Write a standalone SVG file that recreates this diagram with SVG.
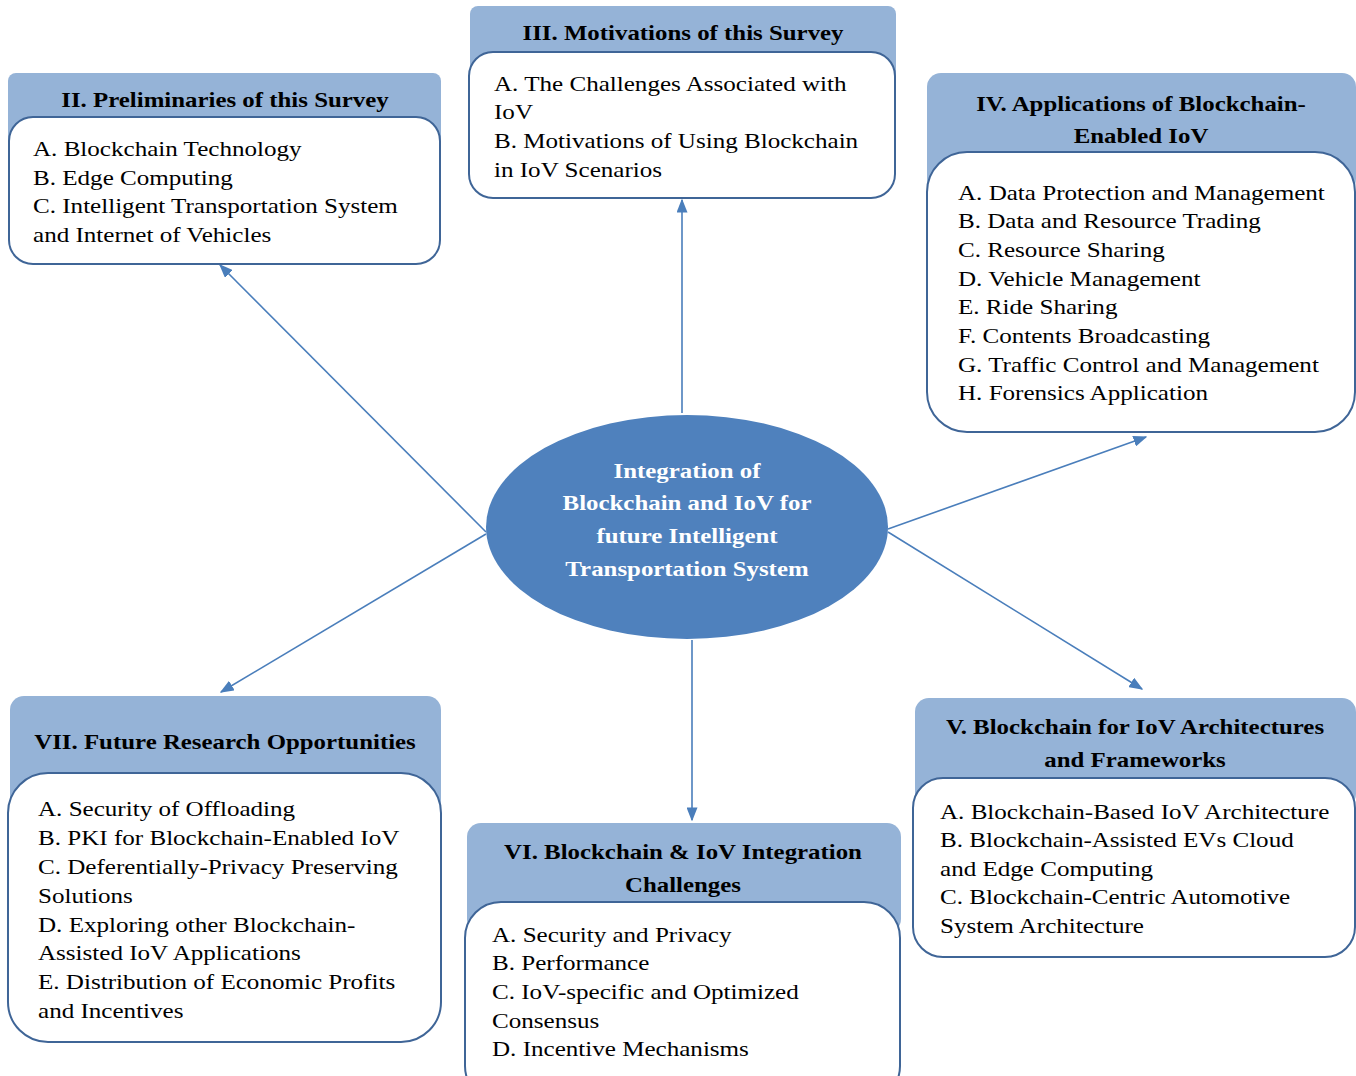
<svg xmlns="http://www.w3.org/2000/svg" width="1356" height="1076" viewBox="0 0 1356 1076">
<defs>
<style>
.hdr{fill:#95B3D7;}
.box{fill:#FFFFFF;stroke:#3F6597;stroke-width:2;}
.ttl{font-family:"Liberation Serif","Times New Roman",serif;font-weight:bold;font-size:22px;fill:#000;text-anchor:middle;}
.bd{font-family:"Liberation Serif","Times New Roman",serif;font-size:22px;fill:#000;}
.ctr{font-family:"Liberation Serif","Times New Roman",serif;font-weight:bold;font-size:22px;fill:#FFFFFF;text-anchor:middle;}
.cn{stroke:#4A7EBB;stroke-width:1.6;fill:none;marker-end:url(#ah);}
</style>
<marker id="ah" viewBox="0 0 10 10" refX="9" refY="5" markerWidth="14" markerHeight="11" markerUnits="userSpaceOnUse" orient="auto" preserveAspectRatio="none">
<path d="M0,0 L10,5 L0,10 z" fill="#4A7EBB"/>
</marker>
</defs>
<rect width="1356" height="1076" fill="#FFFFFF"/>

<g id="connectors">
<line class="cn" x1="486" y1="532" x2="220" y2="265"/>
<line class="cn" x1="682" y1="413" x2="682" y2="200"/>
<line class="cn" x1="888" y1="529" x2="1146" y2="437"/>
<line class="cn" x1="888" y1="532" x2="1142" y2="689"/>
<line class="cn" x1="692" y1="640" x2="692" y2="820"/>
<line class="cn" x1="486" y1="534" x2="221" y2="692"/>
</g>

<g id="center">
<ellipse cx="687" cy="527" rx="201" ry="112" fill="#4F81BD"/>
<g transform="translate(687,0) scale(1.13,1)">
<text class="ctr" x="0" y="478">Integration of</text>
<text class="ctr" x="0" y="510">Blockchain and IoV for</text>
<text class="ctr" x="0" y="543">future Intelligent</text>
<text class="ctr" x="0" y="576">Transportation System</text>
</g>
</g>

<g id="node2">
<rect class="hdr" x="8" y="73" width="433" height="80" rx="8"/>
<rect class="box" x="9" y="117" width="431" height="147" rx="24"/>
<g transform="translate(225,0) scale(1.13,1)">
<text class="ttl" x="0" y="107">II. Preliminaries of this Survey</text>
</g>
<g transform="translate(33,0) scale(1.14,1)">
<text class="bd" x="0" y="156">A. Blockchain Technology</text>
<text class="bd" x="0" y="185">B. Edge Computing</text>
<text class="bd" x="0" y="213">C. Intelligent Transportation System</text>
<text class="bd" x="0" y="242">and Internet of Vehicles</text>
</g>
</g>

<g id="node3">
<rect class="hdr" x="470" y="6" width="426" height="80" rx="8"/>
<rect class="box" x="469" y="52" width="426" height="146" rx="24"/>
<g transform="translate(683,0) scale(1.13,1)">
<text class="ttl" x="0" y="40">III. Motivations of this Survey</text>
</g>
<g transform="translate(494,0) scale(1.14,1)">
<text class="bd" x="0" y="91">A. The Challenges Associated with</text>
<text class="bd" x="0" y="119">IoV</text>
<text class="bd" x="0" y="148">B. Motivations of Using Blockchain</text>
<text class="bd" x="0" y="177">in IoV Scenarios</text>
</g>
</g>

<g id="node4">
<rect class="hdr" x="927" y="73" width="429" height="120" rx="14"/>
<rect class="box" x="927" y="152" width="428" height="280" rx="40"/>
<g transform="translate(1141,0) scale(1.13,1)">
<text class="ttl" x="0" y="111">IV. Applications of Blockchain-</text>
<text class="ttl" x="0" y="143">Enabled IoV</text>
</g>
<g transform="translate(958,0) scale(1.14,1)">
<text class="bd" x="0" y="200">A. Data Protection and Management</text>
<text class="bd" x="0" y="228">B. Data and Resource Trading</text>
<text class="bd" x="0" y="257">C. Resource Sharing</text>
<text class="bd" x="0" y="286">D. Vehicle Management</text>
<text class="bd" x="0" y="314">E. Ride Sharing</text>
<text class="bd" x="0" y="343">F. Contents Broadcasting</text>
<text class="bd" x="0" y="372">G. Traffic Control and Management</text>
<text class="bd" x="0" y="400">H. Forensics Application</text>
</g>
</g>

<g id="node5">
<rect class="hdr" x="915" y="698" width="441" height="110" rx="14"/>
<rect class="box" x="913" y="778" width="442" height="179" rx="30"/>
<g transform="translate(1135,0) scale(1.13,1)">
<text class="ttl" x="0" y="734">V. Blockchain for IoV Architectures</text>
<text class="ttl" x="0" y="767">and Frameworks</text>
</g>
<g transform="translate(940,0) scale(1.14,1)">
<text class="bd" x="0" y="819">A. Blockchain-Based IoV Architecture</text>
<text class="bd" x="0" y="847">B. Blockchain-Assisted EVs Cloud</text>
<text class="bd" x="0" y="876">and Edge Computing</text>
<text class="bd" x="0" y="904">C. Blockchain-Centric Automotive</text>
<text class="bd" x="0" y="933">System Architecture</text>
</g>
</g>

<g id="node6">
<rect class="hdr" x="467" y="823" width="434" height="110" rx="14"/>
<rect class="box" x="465" y="902" width="435" height="200" rx="36"/>
<g transform="translate(683,0) scale(1.13,1)">
<text class="ttl" x="0" y="859">VI. Blockchain &amp; IoV Integration</text>
<text class="ttl" x="0" y="892">Challenges</text>
</g>
<g transform="translate(492,0) scale(1.14,1)">
<text class="bd" x="0" y="942">A. Security and Privacy</text>
<text class="bd" x="0" y="970">B. Performance</text>
<text class="bd" x="0" y="999">C. IoV-specific and Optimized</text>
<text class="bd" x="0" y="1028">Consensus</text>
<text class="bd" x="0" y="1056">D. Incentive Mechanisms</text>
</g>
</g>

<g id="node7">
<rect class="hdr" x="10" y="696" width="431" height="120" rx="14"/>
<rect class="box" x="8" y="773" width="433" height="269" rx="40"/>
<g transform="translate(225,0) scale(1.13,1)">
<text class="ttl" x="0" y="749">VII. Future Research Opportunities</text>
</g>
<g transform="translate(38,0) scale(1.14,1)">
<text class="bd" x="0" y="816">A. Security of Offloading</text>
<text class="bd" x="0" y="845">B. PKI for Blockchain-Enabled IoV</text>
<text class="bd" x="0" y="874">C. Deferentially-Privacy Preserving</text>
<text class="bd" x="0" y="903">Solutions</text>
<text class="bd" x="0" y="932">D. Exploring other Blockchain-</text>
<text class="bd" x="0" y="960">Assisted IoV Applications</text>
<text class="bd" x="0" y="989">E. Distribution of Economic Profits</text>
<text class="bd" x="0" y="1018">and Incentives</text>
</g>
</g>
</svg>
